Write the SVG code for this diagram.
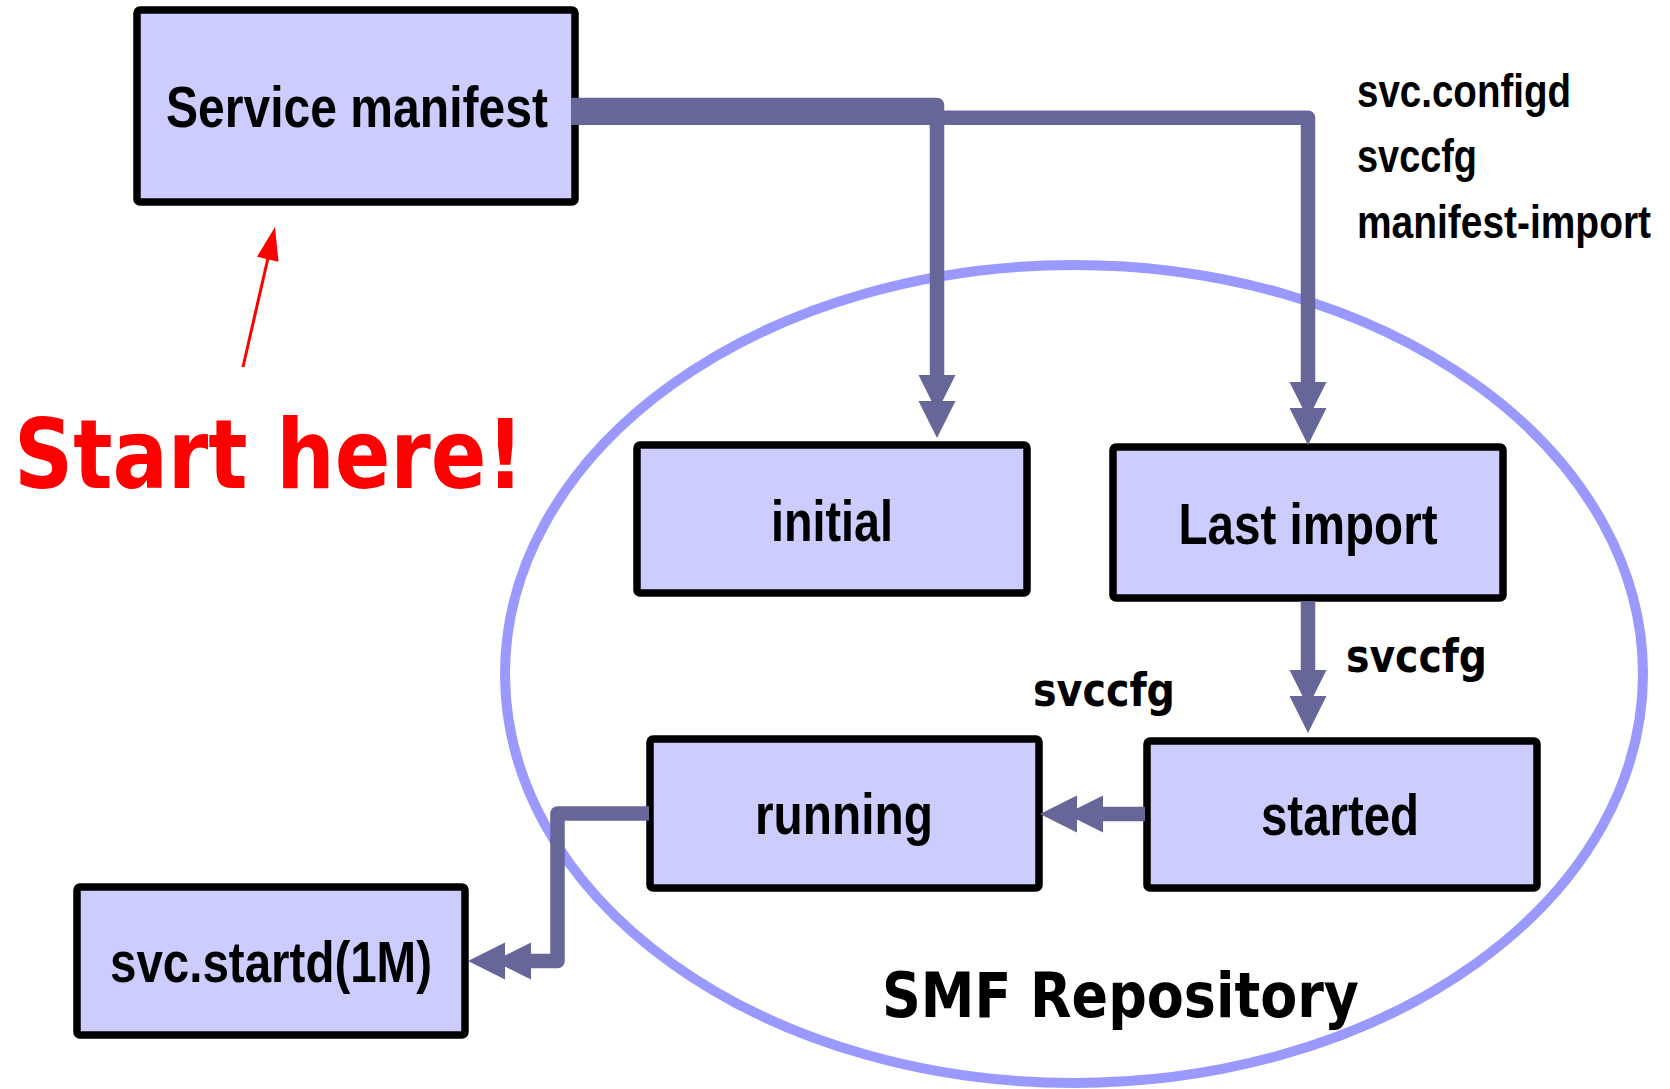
<svg xmlns="http://www.w3.org/2000/svg" width="1670" height="1089" viewBox="0 0 1670 1089">
  <style>
    .box { fill: #ccccff; stroke: #000000; stroke-width: 7.5; }
    .lbl { font-family: 'Liberation Sans Narrow', 'Liberation Sans', Arial, sans-serif; font-weight: bold; fill: #000000; }
    .node { font-size: 58px; text-anchor: middle; }
    .side { font-size: 47px; }
    .dv { font-family: 'DejaVu Sans Condensed', 'DejaVu Sans', sans-serif; font-stretch: condensed; font-weight: bold; }
    .conn { fill: none; stroke: #666699; stroke-width: 14.5; stroke-linejoin: round; stroke-linecap: butt; }
  </style>
  <defs>
    <marker id="dbl" markerUnits="userSpaceOnUse" orient="auto" refX="0" refY="0" markerWidth="90" markerHeight="40" overflow="visible">
      <path d="M19,0 L-18,-18.5 L-18,18.5 Z M45,0 L8,-18.5 L8,18.5 Z" fill="#666699"/>
    </marker>
  </defs>
  <rect width="1670" height="1089" fill="#ffffff"/>

  <g id="smf-repository">
    <ellipse cx="1074" cy="674" rx="569" ry="409" fill="none" stroke="#9999ff" stroke-width="10"/>
    <text class="dv" x="882" y="1017" font-size="62" textLength="477" lengthAdjust="spacingAndGlyphs">SMF Repository</text>
  </g>

  <g id="service-manifest">
    <rect class="box" x="137" y="10" width="438" height="192" rx="3"/>
    <text class="lbl node" x="357" y="127" textLength="382" lengthAdjust="spacingAndGlyphs">Service manifest</text>
  </g>

  <g id="initial">
    <rect class="box" x="637" y="445" width="390" height="148" rx="3"/>
    <text class="lbl node" x="832" y="541" textLength="122" lengthAdjust="spacingAndGlyphs">initial</text>
  </g>

  <g id="last-import">
    <rect class="box" x="1113" y="447" width="390" height="151" rx="3"/>
    <text class="lbl node" x="1308" y="544" textLength="259" lengthAdjust="spacingAndGlyphs">Last import</text>
  </g>

  <g id="running">
    <rect class="box" x="650" y="739" width="389" height="149" rx="3"/>
    <text class="lbl node" x="844" y="834" textLength="178" lengthAdjust="spacingAndGlyphs">running</text>
  </g>

  <g id="started">
    <rect class="box" x="1147" y="741" width="390" height="147" rx="3"/>
    <text class="lbl node" x="1340" y="835" textLength="158" lengthAdjust="spacingAndGlyphs">started</text>
  </g>

  <g id="svc-startd">
    <rect class="box" x="77" y="887" width="388" height="148" rx="3"/>
    <text class="lbl node" x="271" y="982" textLength="322" lengthAdjust="spacingAndGlyphs">svc.startd(1M)</text>
  </g>

  <g id="tools-label">
    <text class="lbl side" x="1357" y="107" textLength="214" lengthAdjust="spacingAndGlyphs">svc.configd</text>
    <text class="lbl side" x="1357" y="172" textLength="120" lengthAdjust="spacingAndGlyphs">svccfg</text>
    <text class="lbl side" x="1357" y="238" textLength="294" lengthAdjust="spacingAndGlyphs">manifest-import</text>
  </g>

  <g id="connectors">
    <path class="conn" d="M571,105 H937 V393" marker-end="url(#dbl)"/>
    <path class="conn" d="M571,117.75 H1308 V400" marker-end="url(#dbl)"/>
    <path class="conn" d="M1308,601 V688" marker-end="url(#dbl)"/>
    <path class="conn" d="M1145,814 H1085" marker-end="url(#dbl)"/>
    <path class="conn" d="M649,813.5 H557.5 V961 H513" marker-end="url(#dbl)"/>
    <text class="dv" x="1346" y="672" font-size="46" textLength="141" lengthAdjust="spacingAndGlyphs">svccfg</text>
    <text class="dv" x="1033" y="706" font-size="46" textLength="142" lengthAdjust="spacingAndGlyphs">svccfg</text>
  </g>

  <g id="start-here">
    <line x1="243" y1="367" x2="268" y2="258" stroke="#ff0000" stroke-width="3"/>
    <polygon points="275,227 257,256.7 278.5,261.7" fill="#ff0000"/>
    <text class="dv" x="14" y="488" font-size="96" fill="#ff0000" textLength="510" lengthAdjust="spacingAndGlyphs">Start here!</text>
  </g>
</svg>
